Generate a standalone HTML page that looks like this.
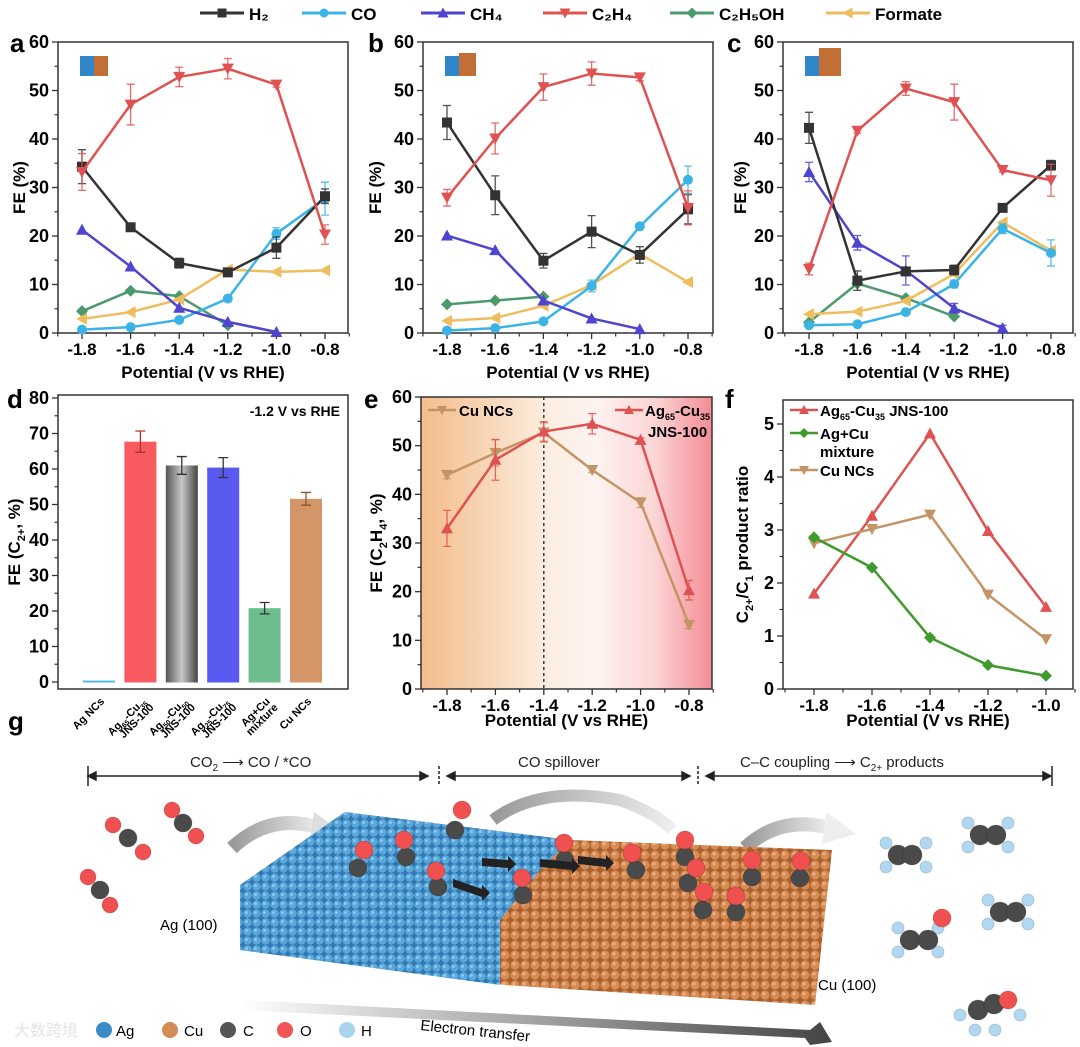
<!DOCTYPE html>
<html><head><meta charset="utf-8"><style>
html,body{margin:0;padding:0;background:#fff}
svg{display:block;font-family:"Liberation Sans",Arial,sans-serif;font-weight:bold}
</style></head><body>
<svg id="fig" width="1080" height="1047" viewBox="0 0 1080 1047" xmlns="http://www.w3.org/2000/svg">
<defs>
<linearGradient id="eBg" x1="0" x2="1" y1="0" y2="0">
<stop offset="0" stop-color="#f4bd8c"/><stop offset="0.45" stop-color="#fcefe2"/><stop offset="0.6" stop-color="#fdf3f0"/><stop offset="0.8" stop-color="#fbd6d6"/><stop offset="1" stop-color="#f48c95"/></linearGradient>
<linearGradient id="grayBar" x1="0" x2="1"><stop offset="0" stop-color="#555"/><stop offset="0.5" stop-color="#c8c8c8"/><stop offset="1" stop-color="#444"/></linearGradient>
<pattern id="agPat" width="9" height="9" patternUnits="userSpaceOnUse"><rect width="9" height="9" fill="#2f78b0"/><circle cx="4.5" cy="4.5" r="4.2" fill="#5aa7dc"/><circle cx="3.5" cy="3.5" r="1.5" fill="#8cc6ee"/></pattern>
<pattern id="cuPat" width="10" height="10" patternUnits="userSpaceOnUse"><rect width="10" height="10" fill="#a8612c"/><circle cx="5" cy="5" r="4.6" fill="#d88c55"/><circle cx="4" cy="3.8" r="1.6" fill="#eab088"/></pattern>
<linearGradient id="etGrad" x1="0" x2="1"><stop offset="0" stop-color="#fff"/><stop offset="1" stop-color="#444"/></linearGradient>
<linearGradient id="curGrad" x1="0" x2="1"><stop offset="0" stop-color="#999"/><stop offset="1" stop-color="#eee"/></linearGradient>
</defs>
<g id="charts"></g>
<g id="illus">
<text x="8" y="730" font-size="26">g</text>
<g stroke="#222" stroke-width="1.5" fill="#222">
<line x1="88" y1="776" x2="428" y2="776"/><polygon points="88,776 96,772 96,780"/><polygon points="428,776 420,772 420,780"/>
<line x1="447" y1="776" x2="690" y2="776"/><polygon points="447,776 455,772 455,780"/><polygon points="690,776 682,772 682,780"/>
<line x1="706" y1="776" x2="1051" y2="776"/><polygon points="706,776 714,772 714,780"/><polygon points="1051,776 1043,772 1043,780"/>
<line x1="88" y1="766" x2="88" y2="786"/><line x1="1052" y1="766" x2="1052" y2="786"/>
<line x1="439" y1="766" x2="439" y2="786" stroke-dasharray="3,2"/><line x1="698" y1="766" x2="698" y2="786" stroke-dasharray="3,2"/>
</g>
<g font-size="15" font-weight="normal" fill="#222">
<text x="190" y="767">CO<tspan font-size="10" dy="4">2</tspan><tspan dy="-4"> ⟶ CO / *CO</tspan></text>
<text x="518" y="767">CO spillover</text>
<text x="740" y="767">C–C coupling ⟶ C<tspan font-size="10" dy="4">2+</tspan><tspan dy="-4"> products</tspan></text>
</g>
<path d="M232,848 Q270,812 320,828" stroke="url(#curGrad)" stroke-width="14" fill="none"/><polygon points="314,812 342,832 310,842" fill="#ddd"/>
<path d="M493,820 Q540,785 620,800 Q660,815 672,830" stroke="url(#curGrad)" stroke-width="12" fill="none"/>
<path d="M745,848 Q780,815 830,828" stroke="url(#curGrad)" stroke-width="14" fill="none"/><polygon points="826,812 856,834 822,844" fill="#eee"/>
<polygon points="240,885 345,812 570,840 832,850 815,1005 505,985 240,950" fill="url(#cuPat)"/>
<polygon points="240,885 345,812 570,840 540,870 500,920 500,985 240,950" fill="url(#agPat)"/>
<polygon points="240,1010 245,1000 810,1030 820,1022 832,1042 810,1045 805,1038" fill="url(#etGrad)"/>
<text x="420" y="1030" font-size="15" font-weight="normal" transform="rotate(6 420 1030)">Electron transfer</text>
<text x="160" y="930" font-size="15" font-weight="normal">Ag (100)</text>
<text x="818" y="990" font-size="15" font-weight="normal">Cu (100)</text>
<g id="mols"></g>
<g font-size="15" font-weight="normal">
<circle cx="104" cy="1030" r="8" fill="#3a8cc8"/><text x="116" y="1036">Ag</text>
<circle cx="170" cy="1030" r="8" fill="#d48b55"/><text x="184" y="1036">Cu</text>
<circle cx="228" cy="1030" r="8" fill="#555"/><text x="243" y="1036">C</text>
<circle cx="285" cy="1030" r="8" fill="#f05555"/><text x="300" y="1036">O</text>
<circle cx="347" cy="1030" r="8" fill="#a8d4f0"/><text x="361" y="1036">H</text>
<text x="14" y="1036" fill="#e4e4e4" font-size="16">大数跨境</text>
</g>
</g>
</svg>
<script>
// ===== data =====
const potentials6 = [-1.8, -1.6, -1.4, -1.2, -1.0, -0.8];
const potentials5 = [-1.8, -1.6, -1.4, -1.2, -1.0];
const a_H2 = [34.3, 21.8, 14.4, 12.5, 17.6, 28.2];
const a_H2err = [3.5, 0.5, 1.0, 0.7, 2.2, 1.5];
const a_CO = [0.7, 1.2, 2.7, 7.1, 20.5, 27.7];
const a_COerr = [0, 0, 0, 0, 1.2, 3.4];
const a_CH4 = [21.3, 13.7, 5.2, 2.3, 0.2];
const a_C2H4 = [33.2, 47.1, 52.8, 54.5, 51.2, 20.3];
const a_C2H4err = [3.8, 4.2, 2.0, 2.1, 0.5, 2.0];
const a_EtOH = [4.5, 8.7, 7.6, 1.6];
const a_Formate = [2.9, 4.3, 6.9, 13.1, 12.6, 12.9];
const b_H2 = [43.4, 28.4, 14.9, 20.9, 16.1, 25.5];
const b_H2err = [3.5, 4.0, 1.5, 3.3, 1.7, 3.0];
const b_CO = [0.5, 1.0, 2.4, 9.7, 22.0, 31.6];
const b_COerr = [0, 0, 0, 1.2, 0, 2.8];
const b_CH4 = [20.1, 17.1, 6.7, 3.0, 0.8];
const b_C2H4 = [27.9, 40.1, 50.7, 53.5, 52.7, 25.8];
const b_C2H4err = [1.7, 3.2, 2.7, 2.4, 0.7, 3.5];
const b_EtOH = [5.9, 6.7, 7.5];
const b_Formate = [2.5, 3.1, 5.6, 9.9, 16.3, 10.5];
const c_H2 = [42.3, 10.8, 12.7, 13.0, 25.8, 34.6];
const c_H2err = [3.2, 2.0, 0.5, 1.0, 0.5, 1.0];
const c_CO = [1.6, 1.8, 4.3, 10.1, 21.5, 16.5];
const c_COerr = [0, 0, 0, 0.8, 1.0, 2.7];
const c_CH4 = [33.2, 18.6, 12.9, 5.1, 1.0];
const c_CH4err = [2.0, 1.5, 3.0, 1.0, 0.6];
const c_C2H4 = [13.2, 41.7, 50.4, 47.6, 33.6, 31.5];
const c_C2H4err = [1.2, 0.5, 1.4, 3.7, 0.4, 3.3];
const c_EtOH = [2.2, 10.2, 7.2, 3.4];
const c_Formate = [3.9, 4.4, 6.6, 12.2, 22.8, 17.0];
const d_categories = ["Ag NCs", "Ag65-Cu35 JNS-100", "Ag50-Cu50 JNS-100", "Ag25-Cu75 JNS-100", "Ag+Cu mixture", "Cu NCs"];
const d_values = [0.4, 67.7, 61.0, 60.4, 20.8, 51.6];
const d_errors = [0, 3.0, 2.5, 2.8, 1.6, 1.8];
const e_CuNCs = [44.0, 48.5, 52.7, 45.0, 38.3, 13.2];
const e_CuNCsErr = [0.8, 2.7, 2.0, 0.5, 1.0, 0.8];
const e_Ag65 = [33.0, 47.1, 52.9, 54.5, 51.2, 20.3];
const e_Ag65Err = [3.7, 4.2, 2.0, 2.1, 0.4, 2.0];
const f_Ag65 = [1.8, 3.27, 4.82, 2.98, 1.55];
const f_Mixture = [2.86, 2.29, 0.97, 0.45, 0.25];
const f_CuNCs = [2.75, 3.02, 3.29, 1.78, 0.94];
const ticks_x6 = ["-1.8", "-1.6", "-1.4", "-1.2", "-1.0", "-0.8"];
const ticks_x5 = ["-1.8", "-1.6", "-1.4", "-1.2", "-1.0"];
const ticks_fe60 = [0, 10, 20, 30, 40, 50, 60];
const ticks_fe80 = [0, 10, 20, 30, 40, 50, 60, 70, 80];
const ticks_ratio = [0, 1, 2, 3, 4, 5];

const NS = "http://www.w3.org/2000/svg";
const root = document.getElementById("charts");
function el(tag, attrs, parent) {
  const e = document.createElementNS(NS, tag);
  for (const k in attrs) e.setAttribute(k, attrs[k]);
  (parent || root).appendChild(e);
  return e;
}
function lin(d0, d1, r0, r1) { return v => r0 + (v - d0) * (r1 - r0) / (d1 - d0); }
const COL = {H2: "#333333", CO: "#3bb4e5", CH4: "#4f44cf", C2H4: "#e05252", EtOH: "#4c9a6c", Formate: "#f0bd5e", CuNC: "#c49467", green: "#3f9a2c"};

function marker(g, type, x, y, c, s) {
  s = s || 5;
  let m;
  if (type === "square") m = el("rect", {x: x - s, y: y - s, width: 2 * s, height: 2 * s, fill: c}, g);
  else if (type === "circle") m = el("circle", {cx: x, cy: y, r: s, fill: c}, g);
  else if (type === "up") m = el("polygon", {points: `${x},${y - s - 1} ${x - s - 1},${y + s} ${x + s + 1},${y + s}`, fill: c}, g);
  else if (type === "down") m = el("polygon", {points: `${x},${y + s + 1} ${x - s - 1},${y - s} ${x + s + 1},${y - s}`, fill: c}, g);
  else if (type === "diamond") m = el("polygon", {points: `${x},${y - s - 1} ${x + s + 1},${y} ${x},${y + s + 1} ${x - s - 1},${y}`, fill: c}, g);
  else m = el("polygon", {points: `${x - s - 1},${y} ${x + s},${y - s - 1} ${x + s},${y + s + 1}`, fill: c}, g);
  
  
}
function series(g, xs, ys, errs, sx, sy, c, type, name, w) {
  const sg = el("g", {}, g);
  
  
  const pts = ys.map((v, i) => `${sx(xs[i])},${sy(v)}`).join(" ");
  el("polyline", {points: pts, fill: "none", stroke: c, "stroke-width": w || 2.5, "stroke-linejoin": "round"}, sg);
  ys.forEach((v, i) => {
    const e = errs ? errs[i] : 0;
    if (e > 0) {
      const x = sx(xs[i]);
      const eb = el("path", {d: `M${x},${sy(v - e)}V${sy(v + e)}M${x - 4},${sy(v - e)}h8M${x - 4},${sy(v + e)}h8`, stroke: c, "stroke-width": 1.3, fill: "none", opacity: 0.85}, sg);
      
      
    }
  });
  ys.forEach((v, i) => marker(sg, type, sx(xs[i]), sy(v), c));
}
function axes(g, box, sx, sy, xt, yt, yMinorStep, xMinor, letter, ytitle, xtitleY, ytitleX) {
  el("rect", {x: box.x0, y: box.y0, width: box.x1 - box.x0, height: box.y1 - box.y0, fill: "none", stroke: "#333", "stroke-width": 1.5}, g);
  const xa = el("g", {}, g);
  
  
  if (xt) {
    xt.forEach(t => {
      const x = sx(parseFloat(t));
      el("line", {x1: x, x2: x, y1: box.y1, y2: box.y1 + 6, stroke: "#333", "stroke-width": 1.3}, xa);
      const tl = el("text", {x: x, y: box.y1 + 22, "font-size": 17, "text-anchor": "middle"}, xa);
      tl.textContent = t;
      
      
    });
    xMinor.forEach(v => {
      const x = sx(v);
      el("line", {x1: x, x2: x, y1: box.y1, y2: box.y1 + 3.5, stroke: "#333", "stroke-width": 1.2}, xa);
    });
  }
  const ya = el("g", {}, g);
  
  
  yt.forEach(t => {
    const y = sy(t);
    el("line", {x1: box.x0 - 6, x2: box.x0, y1: y, y2: y, stroke: "#333", "stroke-width": 1.3}, ya);
    const tl = el("text", {x: box.x0 - 9, y: y + 6, "font-size": 18, "text-anchor": "end"}, ya);
    tl.textContent = t;
    
    
    const ym = sy(t + yMinorStep);
    if (ym > box.y0) el("line", {x1: box.x0 - 3.5, x2: box.x0, y1: ym, y2: ym, stroke: "#333", "stroke-width": 1.2}, ya);
  });
  const lt = el("text", {x: letter[1], y: letter[2], "font-size": 26}, g);
  lt.textContent = letter[0];
  
  
  if (xtitleY) {
    const xt2 = el("text", {x: (box.x0 + box.x1) / 2, y: xtitleY, "font-size": 17, "text-anchor": "middle"}, g);
    xt2.textContent = "Potential (V vs RHE)";
    
    
  }
  const cy = (box.y0 + box.y1) / 2;
  const yt2 = el("text", {x: ytitleX, y: cy, "font-size": 17, "text-anchor": "middle", transform: `rotate(-90 ${ytitleX} ${cy})`}, g);
  yt2.innerHTML = ytitle;
  
  
}
const minor6 = [-1.9, -1.7, -1.5, -1.3, -1.1, -0.9, -0.7];
const minor5 = [-1.9, -1.7, -1.5, -1.3, -1.1, -0.9];

// ===== top legend =====
const leg = el("g", {});


[["H₂", "H2", "square", 200], ["CO", "CO", "circle", 302], ["CH₄", "CH4", "up", 421], ["C₂H₄", "C2H4", "down", 543], ["C₂H₅OH", "EtOH", "diamond", 670], ["Formate", "Formate", "left", 826]].forEach(it => {
  const lg = el("g", {}, leg);
  
  
  el("line", {x1: it[3], x2: it[3] + 44, y1: 13, y2: 13, stroke: COL[it[1]], "stroke-width": 3}, lg);
  marker(lg, it[2], it[3] + 22, 13, COL[it[1]], 4.5);
  const t = el("text", {x: it[3] + 49, y: 20, "font-size": 17}, lg);
  t.textContent = it[0];
});

// ===== panels a, b, c =====
function fePanel(key, box, xr, letter, ytX, d) {
  const g = el("g", {});
  
  
  const sx = lin(-1.8, -0.8, xr[0], xr[1]);
  const sy = lin(0, 60, box.y1, box.y0);
  el("rect", {x: box.x0 + 22, y: box.y0 + 14, width: 14, height: 20, fill: "#2f86c8"}, g);
  el("rect", {x: box.x0 + 36, y: box.y0 + 14 - d.icon, width: 14 + d.icon, height: 20 + d.icon, fill: "#c26f36"}, g);
  axes(g, box, sx, sy, ticks_x6, ticks_fe60, 5, minor6, letter, "FE (%)", 378, ytX);
  series(g, potentials6.slice(0, d.C2H5OH.length), d.C2H5OH, null, sx, sy, COL.EtOH, "diamond", "series-c2h5oh");
  series(g, potentials6, d.Formate, null, sx, sy, COL.Formate, "left", "series-formate");
  series(g, potentials6, d.CO, d.COerr, sx, sy, COL.CO, "circle", "series-co");
  series(g, potentials5, d.CH4, d.CH4err, sx, sy, COL.CH4, "up", "series-ch4");
  series(g, potentials6, d.H2, d.H2err, sx, sy, COL.H2, "square", "series-h2");
  series(g, potentials6, d.C2H4, d.C2H4err, sx, sy, COL.C2H4, "down", "series-c2h4");
}
fePanel("a", {x0: 58, x1: 348, y0: 42, y1: 333}, [82, 325], ["a", 10, 52], 25,
  {H2: a_H2, H2err: a_H2err, CO: a_CO, COerr: a_COerr, CH4: a_CH4, CH4err: null, C2H4: a_C2H4, C2H4err: a_C2H4err, C2H5OH: a_EtOH, Formate: a_Formate, icon: 0});
fePanel("b", {x0: 423, x1: 713, y0: 42, y1: 333}, [447, 688], ["b", 368, 52], 381,
  {H2: b_H2, H2err: b_H2err, CO: b_CO, COerr: b_COerr, CH4: b_CH4, CH4err: null, C2H4: b_C2H4, C2H4err: b_C2H4err, C2H5OH: b_EtOH, Formate: b_Formate, icon: 3});
fePanel("c", {x0: 783, x1: 1073, y0: 42, y1: 333}, [809, 1051], ["c", 727, 52], 746,
  {H2: c_H2, H2err: c_H2err, CO: c_CO, COerr: c_COerr, CH4: c_CH4, CH4err: c_CH4err, C2H4: c_C2H4, C2H4err: c_C2H4err, C2H5OH: c_EtOH, Formate: c_Formate, icon: 8});

// ===== panel d =====
(function () {
  const g = el("g", {});
  
  
  const box = {x0: 58, x1: 348, y0: 395, y1: 689};
  const sy = lin(0, 80, 682, 398);
  const bx = i => 99 + 41.4 * i;
  const fills = ["#4db6ea", "#f75b5f", "url(#grayBar)", "#5a5af2", "#6dbd8f", "#d49669"];
  const errc = ["#333", "#b03030", "#333", "#333", "#333", "#8a5a30"];
  axes(g, box, null, sy, null, ticks_fe80, 5, [], ["d", 7, 408], "FE (C<tspan font-size='11' dy='5'>2+</tspan><tspan dy='-5'>, %)</tspan>", null, 20);
  d_values.forEach((v, i) => {
    const cx = bx(i);
    const r = el("rect", {x: cx - 16, y: sy(v), width: 32, height: sy(0) - sy(v) + 0.5, fill: fills[i]}, g);
    
    
    if (d_errors[i] > 0) {
      const e = d_errors[i];
      el("path", {d: `M${cx},${sy(v - e)}V${sy(v + e)}M${cx - 5},${sy(v - e)}h10M${cx - 5},${sy(v + e)}h10`, stroke: errc[i], "stroke-width": 1.3, fill: "none"}, g);
    }
    const parts = d_categories[i].split(" ");
    const l1 = parts.length > 2 ? parts.slice(0, parts.length - 1).join(" ") : parts[0];
    const l2 = parts.length > 2 ? parts[parts.length - 1] : (parts[1] || "");
    const tg = el("text", {x: cx + 6, y: 702, "font-size": 11, "text-anchor": "end", transform: `rotate(-45 ${cx + 6} 702)`}, g);
    
    
    if (i === 0 || i === 5) tg.textContent = d_categories[i];
    else {
      const m = l1.match(/^Ag(\d+)-Cu(\d+)$/);
      if (m) tg.innerHTML = `<tspan>Ag</tspan><tspan font-size="7" dy="3">${m[1]}</tspan><tspan dy="-3">-Cu</tspan><tspan font-size="7" dy="3">${m[2]}</tspan><tspan dy="-3"></tspan>`;
      else tg.textContent = l1;
      const t2 = el("text", {x: cx + 14, y: 708, "font-size": 11, "text-anchor": "end", transform: `rotate(-45 ${cx + 14} 708)`}, g);
      t2.textContent = l2;
    }
  });
  const an = el("text", {x: 340, y: 416, "font-size": 14, "text-anchor": "end"}, g);
  an.textContent = "-1.2 V vs RHE";
  
  
})();

// ===== panel e =====
(function () {
  const g = el("g", {});
  
  
  const box = {x0: 421, x1: 712, y0: 397, y1: 689};
  const sx = lin(-1.8, -0.8, 447, 689);
  const sy = lin(0, 60, 689, 397);
  el("rect", {x: box.x0, y: box.y0, width: box.x1 - box.x0, height: box.y1 - box.y0, fill: "url(#eBg)"}, g);
  el("line", {x1: sx(-1.4), x2: sx(-1.4), y1: box.y0, y2: box.y1, stroke: "#222", "stroke-width": 1.3, "stroke-dasharray": "3,3"}, g);
  axes(g, box, sx, sy, ticks_x6, ticks_fe60, 5, minor6, ["e", 364, 408], "FE (C<tspan font-size='11' dy='5'>2</tspan><tspan dy='-5'>H</tspan><tspan font-size='11' dy='5'>4</tspan><tspan dy='-5'>, %)</tspan>", 726, 382);
  series(g, potentials6, e_CuNCs, e_CuNCsErr, sx, sy, COL.CuNC, "down", "series-cu-ncs");
  series(g, potentials6, e_Ag65, e_Ag65Err, sx, sy, COL.C2H4, "up", "series-ag65-cu35");
  const l1 = el("g", {}, g);
  
  
  el("line", {x1: 428, x2: 456, y1: 410, y2: 410, stroke: COL.CuNC, "stroke-width": 2.5}, l1);
  marker(l1, "down", 442, 410, COL.CuNC, 4);
  el("text", {x: 459, y: 416, "font-size": 15}, l1).textContent = "Cu NCs";
  const l2 = el("g", {}, g);
  
  
  el("line", {x1: 615, x2: 643, y1: 410, y2: 410, stroke: COL.C2H4, "stroke-width": 2.5}, l2);
  marker(l2, "up", 629, 410, COL.C2H4, 4);
  el("text", {x: 645, y: 416, "font-size": 15}, l2).innerHTML = "Ag<tspan font-size='9' dy='4'>65</tspan><tspan dy='-4'>-Cu</tspan><tspan font-size='9' dy='4'>35</tspan>";
  el("text", {x: 648, y: 437, "font-size": 15}, l2).textContent = "JNS-100";
})();

// ===== panel f =====
(function () {
  const g = el("g", {});
  
  
  const box = {x0: 783, x1: 1073, y0: 400, y1: 689};
  const sx = lin(-1.8, -1.0, 814, 1046);
  const sy = lin(0, 5, 689, 424);
  axes(g, box, sx, sy, ticks_x5, ticks_ratio, 0.5, minor5, ["f", 725, 408], "C<tspan font-size='11' dy='5'>2+</tspan><tspan dy='-5'>/C</tspan><tspan font-size='11' dy='5'>1</tspan><tspan dy='-5'> product ratio</tspan>", 726, 748);
  series(g, potentials5, f_Ag65, null, sx, sy, COL.C2H4, "up", "series-ag65-cu35", 2.5);
  series(g, potentials5, f_CuNCs, null, sx, sy, COL.CuNC, "down", "series-cu-ncs", 2.5);
  series(g, potentials5, f_Mixture, null, sx, sy, COL.green, "diamond", "series-ag-cu-mixture", 2.5);
  [[410, COL.C2H4, "up", "Ag<tspan font-size='9' dy='4'>65</tspan><tspan dy='-4'>-Cu</tspan><tspan font-size='9' dy='4'>35</tspan><tspan dy='-4'> JNS-100</tspan>", "ag65"],
   [433, COL.green, "diamond", "Ag+Cu", "mixture"], [470, COL.CuNC, "down", "Cu NCs", "cu-ncs"]].forEach(it => {
    const lg = el("g", {}, g);
    
    
    el("line", {x1: 790, x2: 818, y1: it[0], y2: it[0], stroke: it[1], "stroke-width": 2.5}, lg);
    marker(lg, it[2], 804, it[0], it[1], 4);
    el("text", {x: 820, y: it[0] + 6, "font-size": 15}, lg).innerHTML = it[3];
  });
  el("text", {x: 820, y: 457, "font-size": 15}, g).textContent = "mixture";
})();

// ===== molecules (illustration) =====
const mols = document.getElementById("mols");
function atom(x, y, r, c) { el("circle", {cx: x, cy: y, r: r, fill: c, stroke: "rgba(0,0,0,0.15)"}, mols); }
const C = "#4a4a4a", O = "#f05050", H = "#b0d8f2";
[[128, 838, 113, 825, 143, 852], [183, 823, 172, 810, 196, 836], [100, 890, 88, 877, 110, 905]].forEach(m => { atom(m[2], m[3], 8, O); atom(m[0], m[1], 9, C); atom(m[4], m[5], 8, O); });
[[455, 830, 462, 810], [406, 857, 404, 840], [358, 868, 364, 850], [438, 887, 436, 871], [523, 895, 522, 878], [565, 860, 564, 843], [636, 870, 632, 853], [685, 857, 685, 840], [688, 883, 696, 868], [752, 877, 752, 860], [800, 878, 801, 861], [703, 910, 704, 892], [736, 912, 736, 896]].forEach(m => { atom(m[0], m[1], 9, C); atom(m[2], m[3], 9, O); });
[[453, 883, 490, 893], [540, 863, 580, 866], [482, 862, 516, 864], [578, 860, 614, 863]].forEach(a => {
  el("polygon", {points: `${a[0]},${a[1] - 4} ${a[2] - 8},${a[3] - 4} ${a[2] - 8},${a[3] - 8} ${a[2]},${a[3]} ${a[2] - 8},${a[3] + 8} ${a[2] - 8},${a[3] + 4} ${a[0]},${a[1] + 4}`, fill: "#222"}, mols);
});
[[898, 855, 912, 855], [980, 835, 996, 835], [1000, 912, 1016, 912], [910, 940, 928, 940]].forEach(m => {
  [[-12, -12], [-12, 12], [28, -12], [28, 12]].forEach(o => atom(m[0] + o[0], m[1] + o[1], 6, H));
  atom(m[0], m[1], 10, C); atom(m[2], m[3], 10, C);
});
atom(942, 918, 9, O);
atom(978, 1010, 10, C); atom(994, 1004, 10, C); atom(1008, 1000, 9, O); atom(960, 1015, 6, H); atom(975, 1030, 6, H); atom(995, 1030, 6, H); atom(1020, 1015, 6, H);
</script>
</body></html>
